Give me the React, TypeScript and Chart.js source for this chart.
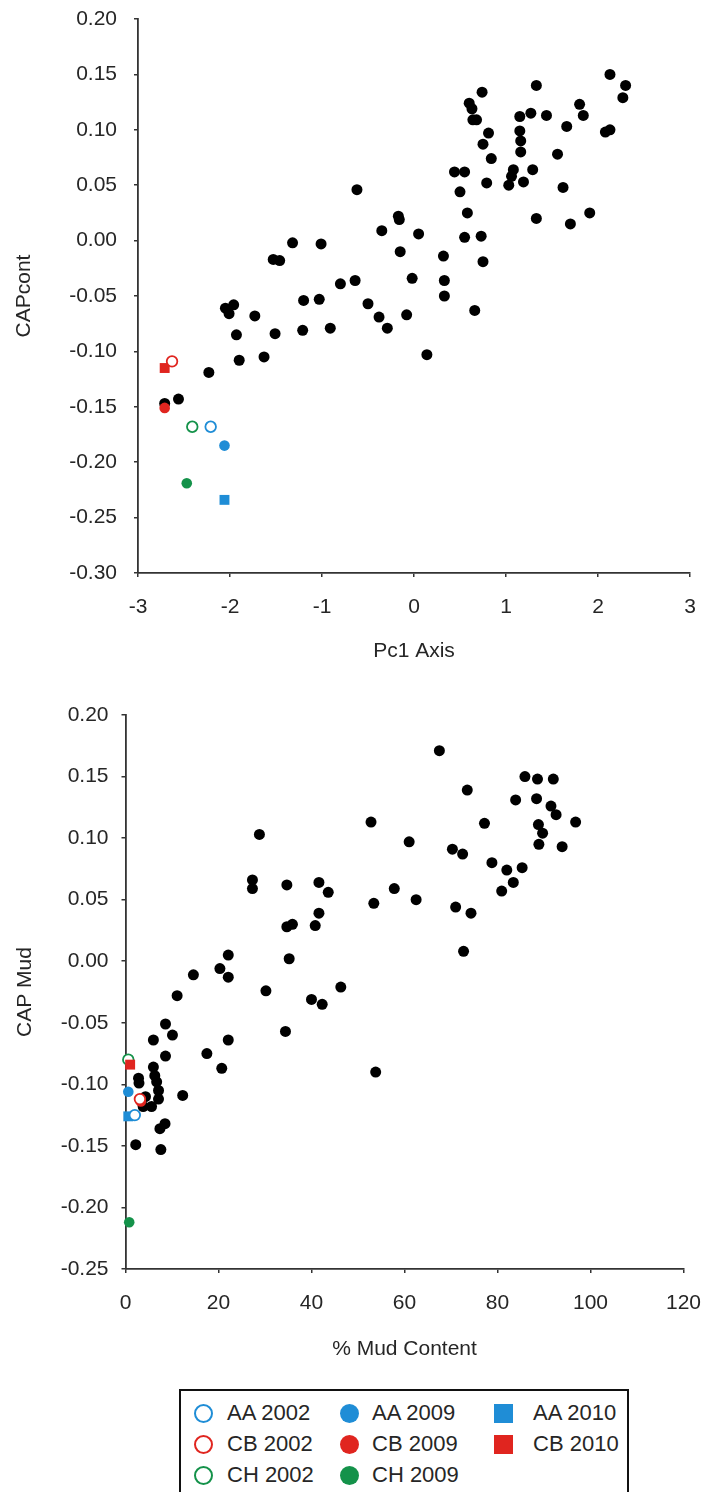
import React, { useEffect, useRef } from 'react';
import { Chart, registerables } from 'chart.js';

Chart.register(...registerables);

const FONT = '"Liberation Sans", Arial, Helvetica, sans-serif';
const TEXT = '#262626';
const AXIS = '#333333';
const BLUE = '#1f8dd6';
const RED = '#e0251f';
const GREEN = '#14924a';
const BLACK = '#000000';

// ---------- Group definitions (legend / coloured points) ----------
const groupLabels = ['AA 2002', 'AA 2009', 'AA 2010', 'CB 2002', 'CB 2009', 'CB 2010', 'CH 2002', 'CH 2009'];
const groupColors = [BLUE, BLUE, BLUE, RED, RED, RED, GREEN, GREEN];
const groupShapes = ['open', 'filled', 'square', 'open', 'filled', 'square', 'open', 'filled'];

// ---------- Chart 1: CAPcont vs Pc1 Axis ----------
const pc1Groups = [-2.21, -2.06, -2.06, -2.63, -2.71, -2.71, -2.41, -2.47];
const capContGroups = [-0.168, -0.185, -0.234, -0.109, -0.151, -0.115, -0.168, -0.219];

const pc1Stations = [
  -1.32, -1.01, -1.53, -1.46, -0.80, -1.20, -1.03, -2.05, -1.96, -2.01, -1.73, -1.93, -1.51, -1.21, -0.91, -1.90, -1.63, -2.23, -2.56, -2.71,
  2.13, 2.30, 2.27, 1.33, 0.74, 0.60, 0.63, 0.64, 0.68, 1.15, 1.27, 1.44, 1.80, 1.84, 1.66, 2.08, 2.13, 0.81, 1.15, 1.16,
  0.75, 1.16, 1.56, 0.84, 0.44, 0.55, 1.08, 1.29, -0.62, 0.50, 0.79, 1.03, 1.19, 1.06, 1.62, 0.58, -0.17, -0.16, -0.35, 0.05,
  1.33, 1.70, 1.91, -0.15, 0.32, 0.55, 0.73, 0.75, -0.64, -0.02, 0.33, 0.33, -0.50, -0.38, -0.29, -0.08, 0.66, 0.14,
];
const capContStations = [
  -0.002, -0.003, -0.017, -0.018, -0.039, -0.054, -0.053, -0.061, -0.058, -0.066, -0.068, -0.085, -0.084, -0.081, -0.079, -0.108, -0.105, -0.119, -0.143, -0.147,
  0.150, 0.140, 0.129, 0.140, 0.134, 0.124, 0.119, 0.109, 0.109, 0.112, 0.115, 0.113, 0.123, 0.113, 0.103, 0.098, 0.100, 0.097, 0.099, 0.090,
  0.087, 0.080, 0.078, 0.074, 0.062, 0.062, 0.064, 0.064, 0.046, 0.044, 0.052, 0.050, 0.053, 0.058, 0.048, 0.025, 0.022, 0.019, 0.009, 0.006,
  0.020, 0.015, 0.025, -0.010, -0.014, 0.003, 0.004, -0.019, -0.036, -0.034, -0.036, -0.050, -0.057, -0.069, -0.079, -0.067, -0.063, -0.103,
];
const pc1Range = [-3, 3, 1];
const capContRange = [-0.3, 0.2, 0.05];

// ---------- Chart 2: CAP Mud vs % Mud Content ----------
const mudGroups = [2.0, 0.6, 0.6, 3.1, 3.3, 1.0, 0.6, 0.8];
const capMudGroups = [-0.125, -0.106, -0.126, -0.112, -0.114, -0.084, -0.080, -0.212];

const mudStations = [
  28.8, 27.3, 27.3, 34.7, 41.6, 43.6, 41.6, 34.7, 35.9, 40.8, 35.2, 22.1, 20.3, 22.1, 14.6, 30.2, 46.3, 40.0, 42.3, 11.1,
  8.6, 10.1, 6.0, 22.1, 34.4, 17.5, 8.6, 20.7, 6.0, 6.3, 6.7, 7.1, 7.1, 5.6, 3.8, 2.8, 2.9, 12.3, 8.5, 7.4,
  2.2, 7.6, 67.5, 85.9, 88.6, 92.0, 73.5, 83.9, 88.4, 91.5, 92.6, 52.8, 77.2, 96.8, 88.8, 89.7, 88.9, 93.9, 61.0, 70.3,
  72.5, 78.8, 82.0, 85.3, 83.4, 80.9, 57.8, 53.4, 62.5, 71.0, 74.3, 72.7, 53.8, 4.3,
];
const capMudStations = [
  0.103, 0.066, 0.059, 0.062, 0.064, 0.056, 0.039, 0.028, 0.030, 0.029, 0.002, 0.005, -0.006, -0.013, -0.011, -0.024, -0.021, -0.031, -0.035, -0.028,
  -0.051, -0.060, -0.064, -0.064, -0.057, -0.075, -0.077, -0.087, -0.086, -0.093, -0.098, -0.105, -0.112, -0.118, -0.118, -0.095, -0.099, -0.109, -0.132, -0.136,
  -0.149, -0.153, 0.171, 0.150, 0.148, 0.148, 0.139, 0.131, 0.132, 0.126, 0.119, 0.113, 0.112, 0.113, 0.111, 0.104, 0.095, 0.093, 0.097, 0.091,
  0.087, 0.080, 0.074, 0.076, 0.064, 0.057, 0.059, 0.047, 0.050, 0.044, 0.039, 0.008, -0.090, -0.110,
];
const mudRange = [0, 120, 20];
const capMudRange = [-0.25, 0.2, 0.05];

function groupDatasets(xs: number[], ys: number[]) {
  return groupLabels.map((label, i) => {
    const shape = groupShapes[i];
    const color = groupColors[i];
    return {
      label,
      data: [{ x: xs[i], y: ys[i] }],
      pointStyle: shape === 'square' ? 'rect' : 'circle',
      pointRadius: shape === 'square' ? 7 : 5.3,
      pointBackgroundColor: shape === 'open' ? '#ffffff' : color,
      pointBorderColor: color,
      pointBorderWidth: shape === 'open' ? 1.8 : 0,
      clip: false as any,
    };
  });
}

function fmt2(v: number) {
  return Math.abs(v) < 1e-9 ? '0.00' : Number(v).toFixed(2);
}

interface CfgOpts {
  xs: number[]; ys: number[]; gx: number[]; gy: number[];
  xRange: number[]; yRange: number[];
  xTitle: string; yTitle: string;
  yWidth: number; xHeight: number; padTop: number; padRight: number;
  yTickPad: number; xTickPad: number; xTitlePad: number; yTitlePad: number;
  xFmt: (v: number) => string;
}

function makeConfig(o: CfgOpts): any {
  const tickFont = { family: FONT, size: 21 };
  const titleFont = { family: FONT, size: 21 };
  return {
    type: 'scatter',
    data: {
      datasets: [
        ...groupDatasets(o.gx, o.gy),
        {
          label: 'Sites',
          data: o.xs.map((x, i) => ({ x, y: o.ys[i] })),
          pointStyle: 'circle',
          pointRadius: 5.5,
          pointBackgroundColor: BLACK,
          pointBorderWidth: 0,
          clip: false,
        },
      ],
    },
    options: {
      animation: false,
      responsive: false,
      maintainAspectRatio: false,
      events: [],
      layout: { padding: { left: 0, right: o.padRight, top: o.padTop, bottom: 0 } },
      plugins: { legend: { display: false }, tooltip: { enabled: false } },
      scales: {
        x: {
          type: 'linear',
          position: 'bottom',
          min: o.xRange[0],
          max: o.xRange[1],
          afterFit: (s: any) => { s.height = o.xHeight; s.paddingLeft = 0; s.paddingRight = 0; },
          ticks: { stepSize: o.xRange[2], padding: o.xTickPad, font: tickFont, color: TEXT, maxRotation: 0, callback: (v: any) => o.xFmt(Number(v)) },
          grid: { display: true, drawOnChartArea: false, drawTicks: true, tickLength: 4, color: AXIS, lineWidth: 1.5 },
          border: { display: true, color: AXIS, width: 1.8 },
          title: { display: true, text: o.xTitle, font: titleFont, color: TEXT, padding: { top: 0, bottom: o.xTitlePad } },
        },
        y: {
          type: 'linear',
          position: 'left',
          min: o.yRange[0],
          max: o.yRange[1],
          afterFit: (s: any) => { s.width = o.yWidth; s.paddingTop = 0; s.paddingBottom = 0; },
          ticks: { stepSize: o.yRange[2], padding: o.yTickPad, font: tickFont, color: TEXT, callback: (v: any) => fmt2(Number(v)) },
          grid: { display: true, drawOnChartArea: false, drawTicks: true, tickLength: 4, color: AXIS, lineWidth: 1.5 },
          border: { display: true, color: AXIS, width: 1.8 },
          title: { display: true, text: o.yTitle, font: titleFont, color: TEXT, padding: { top: o.yTitlePad, bottom: 0 } },
        },
      },
    },
  };
}

const legendColX = [203, 349, 503];
const legendTextX = [227, 372, 533];
const legendRowY = [1413, 1444, 1475];
// column-major placement of groups in the legend box
const legendCells = [
  [0, 0], [1, 0], [2, 0], // AA 2002, AA 2009, AA 2010
  [0, 1], [1, 1], [2, 1], // CB ...
  [0, 2], [1, 2],         // CH ...
];

function LegendMarker({ shape, color }: { shape: string; color: string }) {
  const base: React.CSSProperties = { width: 19, height: 19, boxSizing: 'border-box' };
  if (shape === 'square') return <div style={{ ...base, background: color }} />;
  if (shape === 'filled') return <div style={{ ...base, borderRadius: '50%', background: color }} />;
  return <div style={{ ...base, borderRadius: '50%', border: `2px solid ${color}`, background: '#fff' }} />;
}

export default function App() {
  const ref1 = useRef<HTMLCanvasElement>(null);
  const ref2 = useRef<HTMLCanvasElement>(null);

  useEffect(() => {
    const c1 = new Chart(ref1.current as HTMLCanvasElement, makeConfig({
      xs: pc1Stations, ys: capContStations, gx: pc1Groups, gy: capContGroups,
      xRange: pc1Range, yRange: capContRange,
      xTitle: 'Pc1 Axis', yTitle: 'CAPcont',
      yWidth: 138, xHeight: 117, padTop: 19, padRight: 12,
      yTickPad: 17, xTickPad: 18, xTitlePad: 26, yTitlePad: 12,
      xFmt: (v) => String(Math.round(v)),
    }));
    const c2 = new Chart(ref2.current as HTMLCanvasElement, makeConfig({
      xs: mudStations, ys: capMudStations, gx: mudGroups, gy: capMudGroups,
      xRange: mudRange, yRange: capMudRange,
      xTitle: '% Mud Content', yTitle: 'CAP Mud',
      yWidth: 125.5, xHeight: 111, padTop: 25, padRight: 18.5,
      yTickPad: 13, xTickPad: 18, xTitlePad: 18, yTitlePad: 13,
      xFmt: (v) => String(Math.round(v)),
    }));
    return () => { c1.destroy(); c2.destroy(); };
  }, []);

  return (
    <div style={{ position: 'absolute', left: 0, top: 0, width: 702, height: 1492, overflow: 'hidden', background: '#fff', fontFamily: FONT }}>
      <canvas ref={ref1} width={702} height={690} style={{ position: 'absolute', left: 0, top: 0, display: 'block' }} />
      <canvas ref={ref2} width={702} height={690} style={{ position: 'absolute', left: 0, top: 690, display: 'block' }} />
      <div style={{ position: 'absolute', left: 179, top: 1389, width: 450, height: 140, border: '2px solid #111', boxSizing: 'border-box' }} />
      {groupLabels.map((label, i) => {
        const [c, r] = legendCells[i];
        return (
          <React.Fragment key={label}>
            <div style={{ position: 'absolute', left: legendColX[c] - 9.5, top: legendRowY[r] - 9.5 }}>
              <LegendMarker shape={groupShapes[i]} color={groupColors[i]} />
            </div>
            <div style={{ position: 'absolute', left: legendTextX[c], top: legendRowY[r] - 15, height: 30, lineHeight: '30px', fontSize: 22, color: TEXT, whiteSpace: 'nowrap' }}>
              {label}
            </div>
          </React.Fragment>
        );
      })}
    </div>
  );
}
